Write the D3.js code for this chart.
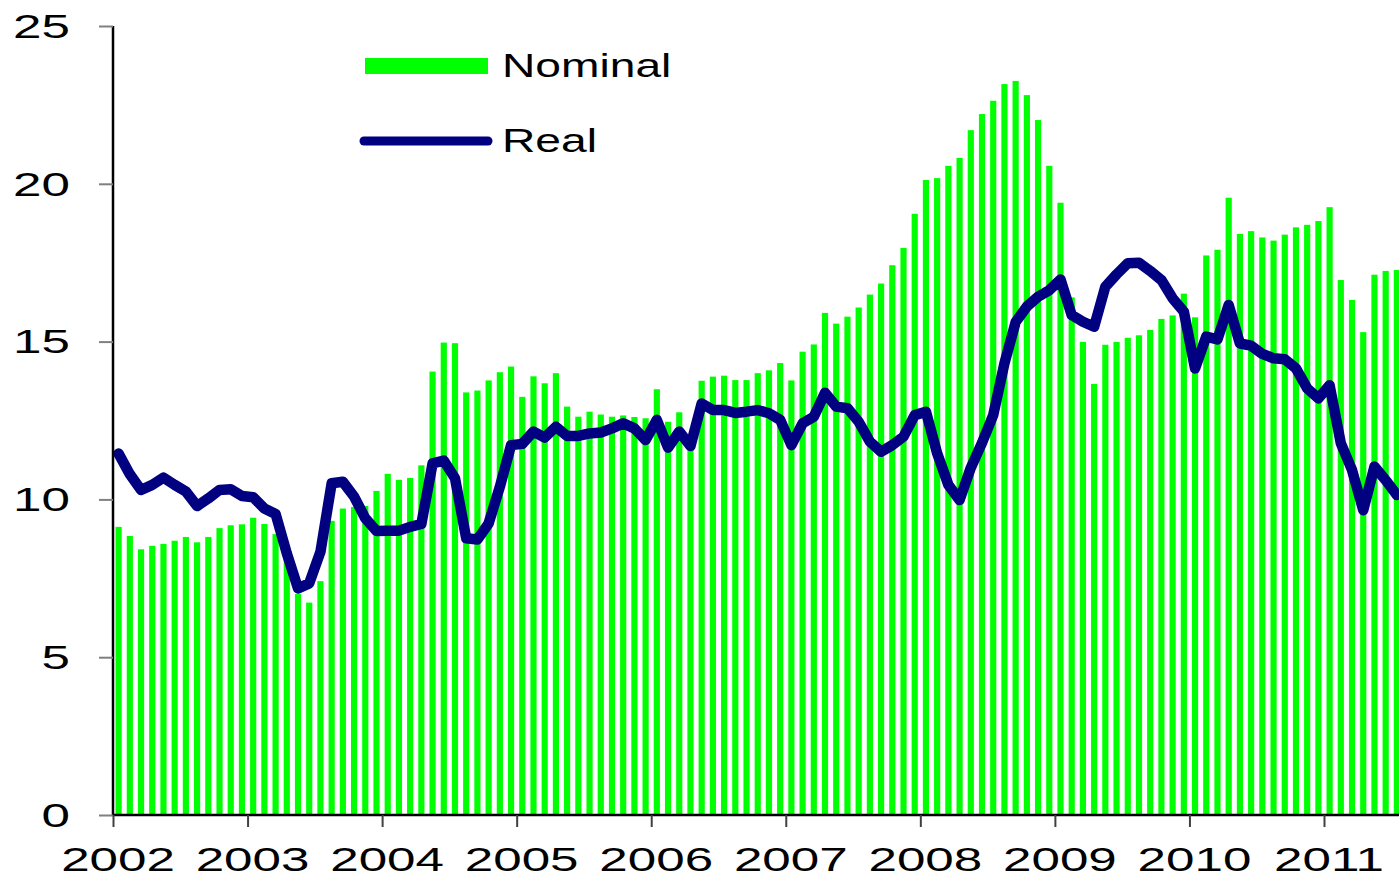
<!DOCTYPE html>
<html>
<head>
<meta charset="utf-8">
<script src="https://cdn.jsdelivr.net/npm/d3@7"></script>
<style>
	body { margin: 0; background: #fff; }
	svg { display: block; }
	text { font-family: "Liberation Sans", Arial, sans-serif; fill: #000; }
</style>
</head>
<body>
<svg width="1399" height="877"></svg>
<script>
// monthly values, Jan 2002 .. Jul 2011
let years = ["2002", "2003", "2004", "2005", "2006", "2007", "2008", "2009", "2010", "2011"];
let yTicks = [0, 5, 10, 15, 20, 25];

let nominal = [
	9.13, 8.84, 8.42, 8.53, 8.59, 8.69, 8.81, 8.64, 8.81, 9.09, 9.18, 9.21,
	9.42, 9.22, 8.90, 8.20, 7.00, 6.73, 7.41, 9.32, 9.71, 9.76, 9.79, 10.27,
	10.81, 10.62, 10.68, 11.08, 14.05, 14.97, 14.95, 13.39, 13.45, 13.77, 14.03, 14.21,
	13.25, 13.90, 13.68, 14.00, 12.94, 12.62, 12.78, 12.69, 12.62, 12.66, 12.61, 12.57,
	13.49, 12.46, 12.76, 11.80, 13.76, 13.89, 13.92, 13.78, 13.78, 14.00, 14.09, 14.32,
	13.77, 14.68, 14.91, 15.91, 15.57, 15.79, 16.08, 16.49, 16.84, 17.42, 17.97, 19.05,
	20.12, 20.18, 20.57, 20.82, 21.70, 22.21, 22.63, 23.16, 23.26, 22.81, 22.02, 20.57,
	19.40, 16.40, 14.99, 13.66, 14.90, 14.99, 15.12, 15.20, 15.37, 15.72, 15.83, 16.52,
	15.77, 17.73, 17.91, 19.56, 18.41, 18.50, 18.30, 18.20, 18.39, 18.62, 18.70, 18.82,
	19.26, 16.95, 16.32, 15.30, 17.12, 17.24, 17.27
];

let real = [
	11.45, 10.80, 10.30, 10.46, 10.69, 10.46, 10.25, 9.79, 10.03, 10.30, 10.32, 10.11,
	10.07, 9.71, 9.54, 8.29, 7.18, 7.34, 8.34, 10.51, 10.56, 10.09, 9.40, 9.00,
	9.01, 9.01, 9.13, 9.22, 11.14, 11.23, 10.67, 8.77, 8.73, 9.24, 10.40, 11.72,
	11.76, 12.15, 11.96, 12.30, 12.01, 12.01, 12.09, 12.12, 12.25, 12.41, 12.25, 11.88,
	12.52, 11.64, 12.15, 11.69, 13.04, 12.83, 12.83, 12.74, 12.78, 12.83, 12.73, 12.52,
	11.72, 12.41, 12.62, 13.38, 12.94, 12.89, 12.46, 11.83, 11.51, 11.72, 11.99, 12.67,
	12.78, 11.46, 10.46, 9.98, 11.00, 11.79, 12.67, 14.31, 15.62, 16.11, 16.42, 16.63,
	16.97, 15.84, 15.63, 15.47, 16.74, 17.13, 17.48, 17.50, 17.24, 16.95, 16.37, 15.95,
	14.15, 15.16, 15.07, 16.16, 14.94, 14.87, 14.61, 14.47, 14.44, 14.15, 13.52, 13.20,
	13.62, 11.78, 10.93, 9.66, 11.04, 10.61, 10.14
];

let legend = ["Nominal", "Real"];

let svg = d3.select("svg");

let plotLeft = 113, plotBase = 815, plotTop = 26;
let monthW = (1324 - plotLeft) / 108;
let nMonths = years.length * 12;
let stretch = 1.55;

let xm = d3.scaleLinear().domain([0, nMonths]).range([plotLeft, plotLeft + nMonths * monthW]);
let x = d3.scaleBand().domain(d3.range(nMonths))
	.range(xm.range()).paddingInner(0.45).paddingOuter(0.225);
let y = d3.scaleLinear().domain([0, 25]).range([plotBase, plotTop]);

svg.append("defs").append("clipPath").attr("id", "plot")
	.append("rect").attr("x", plotLeft).attr("y", 0)
	.attr("width", nMonths * monthW).attr("height", plotBase);

// bars
svg.append("g").selectAll("rect")
	.data(nominal)
	.enter().append("rect")
	.attr("x", function(d, i) { return x(i); })
	.attr("y", function(d) { return y(d); })
	.attr("width", x.bandwidth())
	.attr("height", function(d) { return y(0) - y(d); })
	.attr("fill", "#00ff00");

// real line
let line = d3.line()
	.x(function(d, i) { return x(i) + x.bandwidth() / 2; })
	.y(function(d) { return y(d); });

svg.append("path")
	.datum(real)
	.attr("clip-path", "url(#plot)")
	.attr("d", line)
	.attr("fill", "none")
	.attr("stroke", "#000080")
	.attr("stroke-width", 10.5)
	.attr("stroke-linejoin", "round")
	.attr("stroke-linecap", "round");

// y axis
let yAxis = svg.append("g").attr("transform", "translate(" + plotLeft + ",0)")
	.call(d3.axisLeft(y).tickValues(yTicks).tickSize(14).tickFormat(""));
yAxis.select(".domain").attr("stroke", "#000").attr("stroke-width", 2.5)
	.attr("d", "M0," + plotTop + "V" + plotBase);
yAxis.selectAll(".tick line").attr("stroke", "#808080").attr("stroke-width", 2);

svg.append("g").selectAll("text")
	.data(yTicks)
	.enter().append("text")
	.attr("transform", function(d) { return "translate(70," + y(d) + ") scale(" + stretch + ",1)"; })
	.attr("dy", "0.36em")
	.attr("text-anchor", "end")
	.attr("font-size", 33)
	.text(function(d) { return d; });

// x axis
let xAxis = svg.append("g").attr("transform", "translate(0," + plotBase + ")")
	.call(d3.axisBottom(xm).tickValues(d3.range(0, nMonths, 12)).tickSize(12).tickFormat(""));
xAxis.select(".domain").attr("stroke", "#000").attr("stroke-width", 2.5)
	.attr("d", "M" + plotLeft + ",0H" + xm(nMonths));
xAxis.selectAll(".tick line").attr("stroke", "#404040").attr("stroke-width", 2);

svg.append("g").selectAll("text")
	.data(years)
	.enter().append("text")
	.attr("transform", function(d, i) { return "translate(" + (xm(i * 12) + 5) + ",871) scale(" + stretch + ",1)"; })
	.attr("text-anchor", "middle")
	.attr("font-size", 33)
	.text(function(d) { return d; });

// legend
let lg = svg.append("g");
lg.append("rect")
	.attr("x", 365).attr("y", 58).attr("width", 123).attr("height", 16)
	.attr("fill", "#00ff00");
lg.append("line")
	.attr("x1", 364).attr("x2", 488).attr("y1", 141).attr("y2", 141)
	.attr("stroke", "#000080").attr("stroke-width", 9).attr("stroke-linecap", "round");
lg.selectAll("text")
	.data(legend)
	.enter().append("text")
	.attr("transform", function(d, i) { return "translate(502," + (77 + i * 75) + ") scale(1.4,1)"; })
	.attr("font-size", 33)
	.text(function(d) { return d; });
</script>
</body>
</html>
